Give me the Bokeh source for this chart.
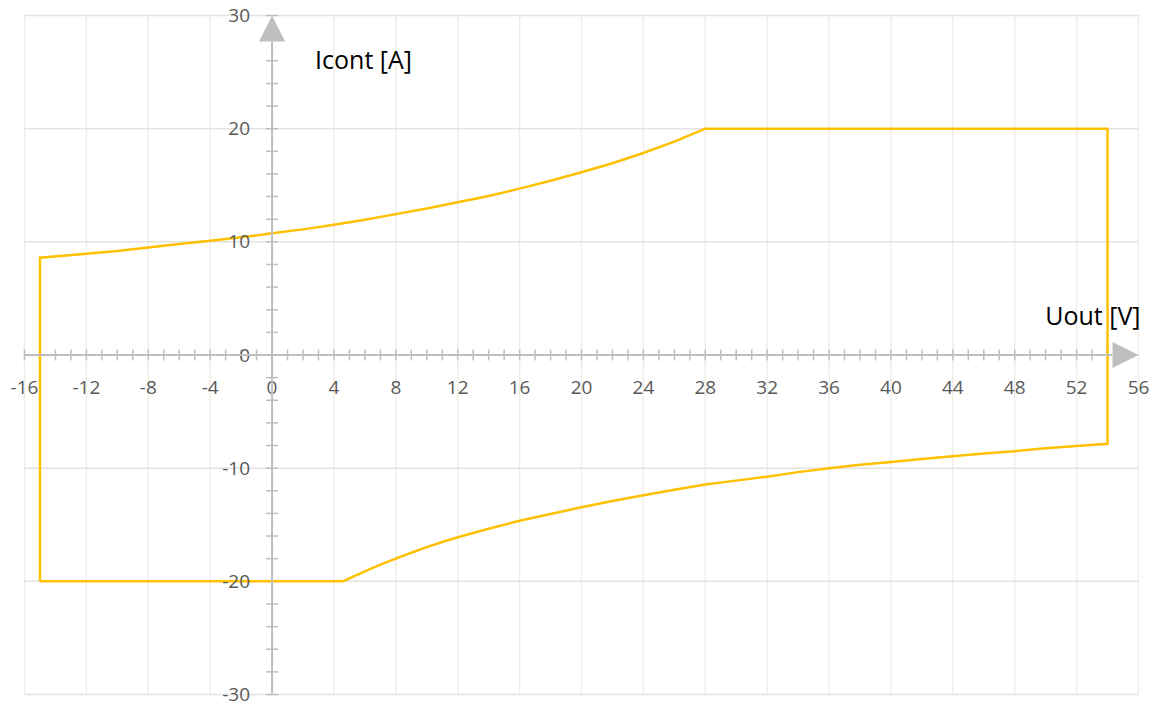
from bokeh.plotting import figure
from bokeh.models import Range1d, Arrow, NormalHead, ColumnDataSource
from bokeh.core.properties import value
from bokeh.embed import file_html
from bokeh.resources import INLINE
import numpy as np

# ---------------- data ----------------
x_tick_values = [-16, -12, -8, -4, 0, 4, 8, 12, 16, 20, 24, 28, 32, 36, 40, 44, 48, 52, 56]
y_tick_values = [-30, -20, -10, 0, 10, 20, 30]
x_minor_ticks = list(range(-16, 55, 1))
y_minor_ticks = list(range(-30, 31, 2))

x_title = "Uout [V]"
y_title = "Icont [A]"

# upper branch (rising curve up to the 20 A limit)
top_u = [-15, -12, -10, -8, -6, -4, -2, 0, 2, 4, 6, 8, 10, 12, 14, 16, 18, 20, 22, 24, 26, 28]
top_i = [8.6, 8.95, 9.2, 9.5, 9.8, 10.1, 10.4, 10.75, 11.1, 11.5, 11.95, 12.45, 12.95, 13.5,
         14.05, 14.7, 15.4, 16.15, 16.95, 17.85, 18.85, 20.0]
# lower branch (from 54 V back to the -20 A limit)
bot_u = [54, 52, 50, 48, 46, 44, 42, 40, 38, 36, 34, 32, 30, 28, 26, 24, 22, 20, 18, 16, 14,
         12, 11, 10, 9, 8, 7, 6, 5, 4.6]
bot_i = [-7.85, -8.05, -8.25, -8.5, -8.7, -8.95, -9.2, -9.45, -9.7, -10.0, -10.35, -10.75,
         -11.1, -11.45, -11.9, -12.4, -12.9, -13.45, -14.05, -14.65, -15.35, -16.1, -16.53,
         -16.98, -17.47, -18.0, -18.53, -19.12, -19.74, -20.0]
u_min, u_max = -15, 54
i_lim = 20

path_u = [u_min] + top_u + [u_max] + bot_u + [u_min]
path_i = [-i_lim] + top_i + [i_lim] + bot_i + [-i_lim]

# ---------------- figure ----------------
W, H = 1151, 708
xmin, xmax = x_tick_values[0], x_tick_values[-1]
ymin, ymax = y_tick_values[0], y_tick_values[-1]
left_px, right_px = 24, 1138
top_px, bottom_px = 15, 694
x_px = (right_px - left_px) / (xmax - xmin)
y_px = (bottom_px - top_px) / (ymax - ymin)
x0 = xmin - left_px / x_px
x1 = xmax + (W - right_px) / x_px
y1 = ymax + top_px / y_px
y0 = ymin - (H - bottom_px) / y_px

p = figure(width=W, height=H, x_range=Range1d(x0, x1), y_range=Range1d(y0, y1),
           x_axis_type=None, y_axis_type=None, toolbar_location=None,
           output_backend="svg", min_border=0, outline_line_color=None,
           background_fill_color="white", border_fill_color="white")

# grid
p.segment(x0=x_tick_values, y0=ymin, x1=x_tick_values, y1=ymax,
          line_color="#EFEEE6", line_width=1.5)
p.segment(x0=xmin, y0=y_tick_values, x1=xmax, y1=y_tick_values,
          line_color="#E3E3E3", line_width=1.5)

axis_col = "#BFBFBF"
# axes with arrow heads
p.add_layout(Arrow(x_start=xmin, y_start=0, x_end=xmax, y_end=0,
                   line_color=axis_col, line_width=2,
                   end=NormalHead(size=26, line_color=axis_col, fill_color=axis_col, line_width=0)))
p.add_layout(Arrow(x_start=0, y_start=ymin, x_end=0, y_end=ymax,
                   line_color=axis_col, line_width=2,
                   end=NormalHead(size=26, line_color=axis_col, fill_color=axis_col, line_width=0)))

# tick marks
p.scatter(x=x_minor_ticks, y=[0] * len(x_minor_ticks), marker="dash", size=11,
          angle=np.pi / 2, line_color=axis_col, line_width=1.5)
p.scatter(x=[0] * len(y_minor_ticks), y=y_minor_ticks, marker="dash", size=12,
          line_color=axis_col, line_width=1.5)

# data line
p.line(x=path_u, y=path_i, line_color="#FFC000", line_width=2.5, line_join="miter")

# tick labels
lab_font = value("Open Sans")
xs = ColumnDataSource(dict(x=x_tick_values, y=[0] * len(x_tick_values),
                           t=[str(v) for v in x_tick_values]))
p.text(x="x", y="y", text="t", source=xs, y_offset=32, text_align="center",
       text_baseline="middle", text_font=lab_font, text_font_size="19px",
       text_color="#595959")
ys = ColumnDataSource(dict(x=[0] * len(y_tick_values), y=y_tick_values,
                           t=[str(v) for v in y_tick_values]))
p.text(x="x", y="y", text="t", source=ys, x_offset=-22, text_align="right",
       text_baseline="middle", text_font=lab_font, text_font_size="19px",
       text_color="#595959")

# axis titles
p.text(x=[0], y=[ymax], text=[y_title], x_offset=43, y_offset=43, text_align="left",
       text_baseline="middle", text_font=lab_font, text_font_size="25px",
       text_color="black")
p.text(x=[xmax], y=[0], text=[x_title], x_offset=2, y_offset=-40, text_align="right",
       text_baseline="middle", text_font=lab_font, text_font_size="25px",
       text_color="black")

open("out.html", "w").write(file_html(p, INLINE))
